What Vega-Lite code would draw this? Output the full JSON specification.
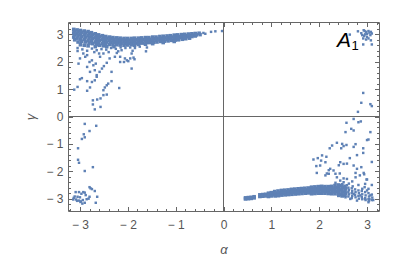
{
  "$schema": "https://vega.github.io/schema/vega-lite/v6.json",
  "width": 311,
  "height": 189,
  "autosize": "none",
  "padding": {"left": 68, "top": 22, "right": 21, "bottom": 63},
  "background": "white",
  "config": {
    "view": {"stroke": null},
    "axis": {"grid": false, "domainColor": "#666", "domainWidth": 1, "tickColor": "#666", "tickWidth": 1, "labelColor": "#555", "labelFont": "Liberation Sans", "labelFontSize": 12, "titleFont": "Liberation Sans", "titleColor": "#555", "titleFontWeight": "normal", "labelOverlap": false, "labelFlush": false}
  },
  "datasets": {
    "band": [
        {"a":-3.13,"g":3.18},{"a":-3.11,"g":3.12},{"a":-3.13,"g":3.05},{"a":-3.11,"g":2.98},{"a":-3.13,"g":2.9},{"a":-3.11,"g":2.8},
        {"a":-3.06,"g":3.16},{"a":-3.04,"g":3.1},{"a":-3.06,"g":3.02},{"a":-3.04,"g":2.95},{"a":-3.06,"g":2.86},{"a":-3.04,"g":2.72},
        {"a":-2.99,"g":3.14},{"a":-2.97,"g":3.08},{"a":-2.99,"g":3.0},{"a":-2.97,"g":2.92},{"a":-2.99,"g":2.83},{"a":-2.97,"g":2.75},{"a":-2.99,"g":2.62},
        {"a":-2.91,"g":3.12},{"a":-2.89,"g":3.05},{"a":-2.91,"g":2.98},{"a":-2.89,"g":2.9},{"a":-2.91,"g":2.82},{"a":-2.89,"g":2.72},{"a":-2.91,"g":2.6},
        {"a":-2.83,"g":3.1},{"a":-2.81,"g":3.02},{"a":-2.83,"g":2.95},{"a":-2.81,"g":2.87},{"a":-2.83,"g":2.78},{"a":-2.81,"g":2.68},{"a":-2.83,"g":2.58},
        {"a":-2.76,"g":3.06},{"a":-2.74,"g":2.99},{"a":-2.76,"g":2.92},{"a":-2.74,"g":2.85},{"a":-2.76,"g":2.76},{"a":-2.74,"g":2.66},
        {"a":-2.68,"g":3.02},{"a":-2.66,"g":2.95},{"a":-2.68,"g":2.88},{"a":-2.66,"g":2.8},{"a":-2.68,"g":2.72},{"a":-2.66,"g":2.62},{"a":-2.68,"g":2.55},
        {"a":-2.61,"g":2.98},{"a":-2.59,"g":2.92},{"a":-2.61,"g":2.85},{"a":-2.59,"g":2.78},{"a":-2.61,"g":2.7},{"a":-2.59,"g":2.6},
        {"a":-2.53,"g":2.95},{"a":-2.51,"g":2.88},{"a":-2.53,"g":2.82},{"a":-2.51,"g":2.75},{"a":-2.53,"g":2.66},{"a":-2.51,"g":2.58},
        {"a":-2.46,"g":2.92},{"a":-2.44,"g":2.86},{"a":-2.46,"g":2.8},{"a":-2.44,"g":2.72},{"a":-2.46,"g":2.64},{"a":-2.44,"g":2.55},
        {"a":-2.38,"g":2.9},{"a":-2.36,"g":2.84},{"a":-2.38,"g":2.78},{"a":-2.36,"g":2.71},{"a":-2.38,"g":2.63},
        {"a":-2.31,"g":2.88},{"a":-2.29,"g":2.82},{"a":-2.31,"g":2.76},{"a":-2.29,"g":2.7},{"a":-2.31,"g":2.62},{"a":-2.29,"g":2.55},
        {"a":-2.23,"g":2.87},{"a":-2.21,"g":2.81},{"a":-2.23,"g":2.75},{"a":-2.21,"g":2.69},{"a":-2.23,"g":2.62},
        {"a":-2.16,"g":2.86},{"a":-2.14,"g":2.8},{"a":-2.16,"g":2.74},{"a":-2.14,"g":2.68},{"a":-2.16,"g":2.61},
        {"a":-2.08,"g":2.85},{"a":-2.06,"g":2.79},{"a":-2.08,"g":2.73},{"a":-2.06,"g":2.67},{"a":-2.08,"g":2.6},
        {"a":-2.01,"g":2.85},{"a":-1.99,"g":2.79},{"a":-2.01,"g":2.73},{"a":-1.99,"g":2.67},{"a":-2.01,"g":2.61},
        {"a":-1.93,"g":2.85},{"a":-1.91,"g":2.79},{"a":-1.93,"g":2.73},{"a":-1.91,"g":2.67},{"a":-1.93,"g":2.62},
        {"a":-1.86,"g":2.86},{"a":-1.84,"g":2.8},{"a":-1.86,"g":2.74},{"a":-1.84,"g":2.68},{"a":-1.86,"g":2.6},
        {"a":-1.78,"g":2.86},{"a":-1.76,"g":2.8},{"a":-1.78,"g":2.74},{"a":-1.76,"g":2.68},{"a":-1.78,"g":2.63},
        {"a":-1.71,"g":2.87},{"a":-1.69,"g":2.81},{"a":-1.71,"g":2.75},{"a":-1.69,"g":2.68},
        {"a":-1.63,"g":2.88},{"a":-1.61,"g":2.82},{"a":-1.63,"g":2.76},{"a":-1.61,"g":2.7},{"a":-1.63,"g":2.64},
        {"a":-1.56,"g":2.88},{"a":-1.54,"g":2.82},{"a":-1.56,"g":2.76},{"a":-1.54,"g":2.7},
        {"a":-1.48,"g":2.9},{"a":-1.46,"g":2.84},{"a":-1.48,"g":2.78},{"a":-1.46,"g":2.71},{"a":-1.48,"g":2.66},
        {"a":-1.41,"g":2.9},{"a":-1.39,"g":2.84},{"a":-1.41,"g":2.78},{"a":-1.39,"g":2.72},
        {"a":-1.33,"g":2.92},{"a":-1.31,"g":2.86},{"a":-1.33,"g":2.8},{"a":-1.31,"g":2.74},
        {"a":-1.26,"g":2.93},{"a":-1.24,"g":2.87},{"a":-1.26,"g":2.81},{"a":-1.24,"g":2.75},{"a":-1.26,"g":2.7},
        {"a":-1.18,"g":2.94},{"a":-1.16,"g":2.88},{"a":-1.18,"g":2.82},{"a":-1.16,"g":2.76},
        {"a":-1.11,"g":2.95},{"a":-1.09,"g":2.9},{"a":-1.11,"g":2.84},{"a":-1.09,"g":2.78},
        {"a":-1.03,"g":2.97},{"a":-1.01,"g":2.91},{"a":-1.03,"g":2.85},{"a":-1.01,"g":2.79},{"a":-1.03,"g":2.74},
        {"a":-0.96,"g":2.98},{"a":-0.94,"g":2.92},{"a":-0.96,"g":2.86},{"a":-0.94,"g":2.8},
        {"a":-0.88,"g":2.99},{"a":-0.86,"g":2.93},{"a":-0.88,"g":2.88},{"a":-0.86,"g":2.82},
        {"a":-0.81,"g":3.0},{"a":-0.79,"g":2.95},{"a":-0.81,"g":2.89},{"a":-0.79,"g":2.84},
        {"a":-0.73,"g":3.01},{"a":-0.71,"g":2.96},{"a":-0.73,"g":2.91},{"a":-0.71,"g":2.86},
        {"a":-0.66,"g":3.02},{"a":-0.64,"g":2.97},{"a":-0.66,"g":2.92},
        {"a":-0.59,"g":3.03},{"a":-0.57,"g":2.98},{"a":-0.59,"g":2.94},
        {"a":-0.51,"g":3.04},{"a":-0.49,"g":2.99},
        {"a":0.46,"g":-2.97},{"a":0.46,"g":-3.01},{"a":0.52,"g":-2.96},{"a":0.52,"g":-3.0},{"a":0.58,"g":-2.95},{"a":0.58,"g":-2.99},{"a":0.64,"g":-2.93},{"a":0.64,"g":-2.97},
        {"a":0.76,"g":-2.86},{"a":0.76,"g":-2.92},{"a":0.82,"g":-2.85},{"a":0.82,"g":-2.91},{"a":0.88,"g":-2.84},{"a":0.88,"g":-2.9},
        {"a":0.94,"g":-2.8},{"a":0.95,"g":-2.86},{"a":0.94,"g":-2.92},{"a":1.0,"g":-2.78},{"a":1.01,"g":-2.84},{"a":1.0,"g":-2.9},
        {"a":1.07,"g":-2.74},{"a":1.08,"g":-2.8},{"a":1.07,"g":-2.86},{"a":1.08,"g":-2.9},
        {"a":1.14,"g":-2.72},{"a":1.15,"g":-2.78},{"a":1.14,"g":-2.84},{"a":1.15,"g":-2.89},
        {"a":1.21,"g":-2.7},{"a":1.22,"g":-2.76},{"a":1.21,"g":-2.82},{"a":1.22,"g":-2.87},
        {"a":1.28,"g":-2.69},{"a":1.29,"g":-2.75},{"a":1.28,"g":-2.81},{"a":1.29,"g":-2.86},
        {"a":1.35,"g":-2.68},{"a":1.36,"g":-2.74},{"a":1.35,"g":-2.8},{"a":1.36,"g":-2.85},
        {"a":1.42,"g":-2.66},{"a":1.43,"g":-2.72},{"a":1.42,"g":-2.78},{"a":1.43,"g":-2.84},
        {"a":1.49,"g":-2.65},{"a":1.5,"g":-2.71},{"a":1.49,"g":-2.77},{"a":1.5,"g":-2.83},
        {"a":1.56,"g":-2.64},{"a":1.57,"g":-2.7},{"a":1.56,"g":-2.76},{"a":1.57,"g":-2.82},
        {"a":1.63,"g":-2.63},{"a":1.64,"g":-2.69},{"a":1.63,"g":-2.75},{"a":1.64,"g":-2.81},
        {"a":1.7,"g":-2.62},{"a":1.71,"g":-2.68},{"a":1.7,"g":-2.74},{"a":1.71,"g":-2.8},
        {"a":1.77,"g":-2.61},{"a":1.78,"g":-2.67},{"a":1.77,"g":-2.73},{"a":1.78,"g":-2.79},
        {"a":1.84,"g":-2.58},{"a":1.85,"g":-2.64},{"a":1.84,"g":-2.7},{"a":1.85,"g":-2.76},{"a":1.84,"g":-2.82},
        {"a":1.91,"g":-2.57},{"a":1.92,"g":-2.63},{"a":1.91,"g":-2.69},{"a":1.92,"g":-2.75},{"a":1.91,"g":-2.81},
        {"a":1.98,"g":-2.56},{"a":1.99,"g":-2.62},{"a":1.98,"g":-2.68},{"a":1.99,"g":-2.74},{"a":1.98,"g":-2.8},
        {"a":2.05,"g":-2.55},{"a":2.06,"g":-2.61},{"a":2.05,"g":-2.67},{"a":2.06,"g":-2.73},{"a":2.05,"g":-2.8},
        {"a":2.12,"g":-2.56},{"a":2.13,"g":-2.62},{"a":2.12,"g":-2.68},{"a":2.13,"g":-2.74},{"a":2.12,"g":-2.8},
        {"a":2.19,"g":-2.56},{"a":2.2,"g":-2.62},{"a":2.19,"g":-2.68},{"a":2.2,"g":-2.74},{"a":2.19,"g":-2.81},
        {"a":2.26,"g":-2.55},{"a":2.27,"g":-2.62},{"a":2.26,"g":-2.68},{"a":2.27,"g":-2.75},{"a":2.26,"g":-2.82},
        {"a":2.33,"g":-2.52},{"a":2.34,"g":-2.6},{"a":2.33,"g":-2.67},{"a":2.34,"g":-2.74},{"a":2.33,"g":-2.82},
        {"a":2.4,"g":-2.5},{"a":2.41,"g":-2.58},{"a":2.4,"g":-2.66},{"a":2.41,"g":-2.74},{"a":2.4,"g":-2.82},{"a":2.41,"g":-2.88},
        {"a":2.47,"g":-2.52},{"a":2.48,"g":-2.6},{"a":2.47,"g":-2.68},{"a":2.48,"g":-2.76},{"a":2.47,"g":-2.84},{"a":2.48,"g":-2.9},
        {"a":2.54,"g":-2.55},{"a":2.55,"g":-2.64},{"a":2.54,"g":-2.72},{"a":2.55,"g":-2.8},{"a":2.54,"g":-2.88}
    ],
    "scatter": [
        {"a":-0.42,"g":3.05},{"a":-0.38,"g":3.02},{"a":-0.26,"g":3.09},{"a":-0.17,"g":3.11},{"a":-0.03,"g":3.12},
        {"a":-3.12,"g":0.98},{"a":-3.05,"g":1.08},{"a":-3.0,"g":1.36},{"a":-2.96,"g":1.4},{"a":-2.85,"g":1.29},{"a":-2.85,"g":0.94},{"a":-2.79,"g":1.06},{"a":-2.75,"g":1.26},{"a":-2.69,"g":1.32},{"a":-2.65,"g":1.45},{"a":-2.73,"g":0.59},{"a":-2.64,"g":0.62},{"a":-2.57,"g":0.66},{"a":-2.69,"g":0.26},{"a":-2.57,"g":0.35},{"a":-2.73,"g":0.44},{"a":-2.51,"g":0.96},{"a":-2.48,"g":1.06},{"a":-2.44,"g":1.14},{"a":-2.41,"g":1.2},{"a":-2.34,"g":1.29},{"a":-2.51,"g":0.78},{"a":-2.44,"g":0.8},{"a":-2.34,"g":1.63},{"a":-2.18,"g":1.04},{"a":-2.16,"g":2.18},{"a":-2.08,"g":1.99},{"a":-2.02,"g":2.05},{"a":-1.95,"g":2.12},{"a":-1.92,"g":2.3},{"a":-1.86,"g":2.09},{"a":-1.92,"g":1.75},{"a":-1.62,"g":2.38},{"a":-2.93,"g":2.3},{"a":-2.89,"g":2.18},{"a":-2.85,"g":2.24},{"a":-2.8,"g":1.99},{"a":-2.75,"g":2.05},{"a":-2.72,"g":1.87},{"a":-2.67,"g":1.93},{"a":-2.85,"g":1.81},{"a":-2.79,"g":1.63},{"a":-2.69,"g":1.69},{"a":-2.65,"g":1.51},{"a":-2.59,"g":1.63},{"a":-2.54,"g":1.75},{"a":-2.5,"g":1.84},{"a":-2.44,"g":1.96},{"a":-2.38,"g":2.12},{"a":-2.58,"g":2.18},{"a":-2.51,"g":2.3},{"a":-3.03,"g":1.93},{"a":-3.0,"g":2.12},{"a":-3.05,"g":2.39},{"a":-2.27,"g":2.18},{"a":-2.16,"g":1.99},{"a":-2.06,"g":2.12},{"a":-1.99,"g":2.02},{"a":-1.88,"g":2.15},{"a":-2.23,"g":2.32},{"a":-2.13,"g":2.42},
        {"a":-3.05,"g":2.5},{"a":-2.95,"g":2.45},{"a":-2.85,"g":2.4},{"a":-2.75,"g":2.48},{"a":-2.65,"g":2.42},{"a":-2.55,"g":2.46},{"a":-2.45,"g":2.44},{"a":-2.35,"g":2.5},{"a":-2.25,"g":2.47},{"a":-2.15,"g":2.52},{"a":-2.05,"g":2.5},{"a":-1.95,"g":2.52},{"a":-1.85,"g":2.5},{"a":-1.75,"g":2.55},{"a":-1.6,"g":2.52},{"a":-2.7,"g":2.35},{"a":-2.6,"g":2.3},{"a":-2.4,"g":2.35},{"a":-2.2,"g":2.38},{"a":-1.9,"g":2.4},
        {"a":-2.9,"g":-0.27},{"a":-2.66,"g":-0.34},{"a":-2.8,"g":-0.53},{"a":-2.92,"g":-0.65},{"a":-2.9,"g":-0.76},{"a":-2.96,"g":-0.82},{"a":-3.04,"g":-1.16},{"a":-3.04,"g":-1.58},{"a":-3.02,"g":-1.69},{"a":-2.73,"g":-1.85},{"a":-2.9,"g":-1.99},{"a":-2.8,"g":-2.58},{"a":-2.78,"g":-2.62},{"a":-2.75,"g":-2.65},{"a":-2.69,"g":-2.72},{"a":-3.09,"g":-2.76},{"a":-3.02,"g":-2.76},{"a":-2.93,"g":-2.76},{"a":-2.9,"g":-2.78},{"a":-2.97,"g":-2.82},{"a":-2.64,"g":-2.93},{"a":-3.11,"g":-2.92},{"a":-3.13,"g":-2.97},{"a":-3.08,"g":-3.03},{"a":-3.02,"g":-3.07},{"a":-2.98,"g":-3.1},{"a":-2.94,"g":-3.05},{"a":-2.9,"g":-3.15},{"a":-2.82,"g":-3.0},{"a":-2.8,"g":-2.93},{"a":-2.67,"g":-3.15},{"a":-3.05,"g":-2.93},{"a":-3.06,"g":-3.08},{"a":-2.99,"g":-3.12},{"a":-2.95,"g":-3.18},{"a":-3.0,"g":-2.95},{"a":-2.86,"g":-3.02},{"a":-3.14,"g":-3.03},{"a":-2.88,"g":-2.87},
        {"a":2.81,"g":3.11},{"a":2.93,"g":3.15},{"a":2.98,"g":3.09},{"a":3.03,"g":3.12},{"a":3.08,"g":3.09},{"a":2.9,"g":2.97},{"a":2.94,"g":2.94},{"a":3.0,"g":2.91},{"a":3.07,"g":2.97},{"a":3.1,"g":3.03},{"a":2.92,"g":2.85},{"a":2.98,"g":2.81},{"a":3.03,"g":2.85},{"a":3.08,"g":2.78},{"a":2.92,"g":2.63},{"a":3.1,"g":2.63},{"a":2.64,"g":2.99},{"a":2.95,"g":3.12},{"a":3.0,"g":3.02},{"a":2.88,"g":3.04},{"a":3.05,"g":3.06},{"a":2.96,"g":3.0},
        {"a":2.92,"g":0.86},{"a":2.88,"g":0.5},{"a":3.07,"g":0.45},{"a":3.1,"g":0.38},{"a":2.81,"g":0.17},
        {"a":2.72,"g":-0.09},{"a":2.82,"g":-0.21},{"a":2.87,"g":-0.18},{"a":2.57,"g":-0.23},{"a":2.67,"g":-0.45},{"a":2.72,"g":-0.51},{"a":2.55,"g":-0.57},{"a":3.07,"g":-0.57},{"a":3.03,"g":-0.84},{"a":2.37,"g":-0.96},{"a":2.48,"g":-1.0},{"a":2.22,"g":-1.16},{"a":2.27,"g":-1.06},{"a":2.46,"g":-1.16},{"a":2.51,"g":-1.08},{"a":2.57,"g":-1.04},{"a":2.92,"g":-1.16},{"a":1.88,"g":-1.57},{"a":1.97,"g":-1.52},{"a":2.06,"g":-1.42},{"a":2.04,"g":-1.61},{"a":2.13,"g":-1.67},{"a":1.94,"g":-1.81},{"a":2.02,"g":-1.79},{"a":2.23,"g":-1.91},{"a":2.3,"g":-1.97},{"a":2.2,"g":-2.09},{"a":2.13,"g":-2.15},{"a":2.34,"g":-2.09},{"a":2.37,"g":-2.22},{"a":2.44,"g":-1.67},{"a":2.51,"g":-1.73},{"a":2.64,"g":-1.52},{"a":2.72,"g":-1.79},{"a":2.79,"g":-1.91},{"a":2.88,"g":-1.85},{"a":2.93,"g":-2.06},{"a":2.85,"g":-2.15},{"a":2.76,"g":-2.22},{"a":3.0,"g":-2.3},{"a":2.96,"g":-2.46},{"a":2.58,"g":-2.28},{"a":2.69,"g":-2.37},{"a":2.44,"g":-2.34},{"a":2.51,"g":-2.4},{"a":2.9,"g":-2.64},{"a":3.0,"g":-2.7},{"a":3.07,"g":-2.88},{"a":2.86,"g":-2.88},{"a":2.96,"g":-3.01},{"a":3.03,"g":-3.13},{"a":2.79,"g":-3.07},{"a":2.65,"g":-3.01},{"a":2.72,"g":-2.82},{"a":3.03,"g":-2.64},{"a":3.1,"g":-2.5},{"a":3.05,"g":-3.01},{"a":1.95,"g":-2.06},{"a":2.15,"g":-1.47},{"a":2.16,"g":-2.08},{"a":2.2,"g":-1.96},{"a":2.41,"g":-1.78},{"a":2.43,"g":-2.08},{"a":2.51,"g":-2.26},{"a":2.58,"g":-1.72},{"a":2.72,"g":-1.11},{"a":2.76,"g":-1.01},{"a":2.79,"g":-1.41},{"a":2.92,"g":-1.33},{"a":3.0,"g":-0.86},{"a":3.1,"g":-1.66},{"a":2.94,"g":-2.11},{"a":2.99,"g":-2.3},{"a":2.76,"g":-2.06},{"a":2.58,"g":-2.51},{"a":2.34,"g":-2.42},{"a":2.62,"g":-2.45},{"a":2.82,"g":-2.5},{"a":2.7,"g":-2.55},{"a":2.95,"g":-2.58},{"a":2.48,"g":-2.47},
        {"a":2.55,"g":-2.95},
        {"a":2.61,"g":-2.6},{"a":2.62,"g":-2.68},{"a":2.61,"g":-2.76},{"a":2.62,"g":-2.84},{"a":2.61,"g":-2.92},
        {"a":2.68,"g":-2.62},{"a":2.69,"g":-2.72},{"a":2.68,"g":-2.8},{"a":2.69,"g":-2.9},{"a":2.68,"g":-2.98},
        {"a":2.75,"g":-2.66},{"a":2.76,"g":-2.76},{"a":2.75,"g":-2.86},{"a":2.76,"g":-2.95},
        {"a":2.82,"g":-2.7},{"a":2.83,"g":-2.8},{"a":2.82,"g":-2.9},{"a":2.83,"g":-3.0},
        {"a":2.89,"g":-2.72},{"a":2.9,"g":-2.84},{"a":2.89,"g":-2.94},{"a":2.9,"g":-3.02},
        {"a":2.96,"g":-2.76},{"a":2.97,"g":-2.88},{"a":2.96,"g":-2.98},{"a":2.97,"g":-3.05},
        {"a":3.03,"g":-2.8},{"a":3.04,"g":-2.92},{"a":3.03,"g":-3.02},{"a":3.04,"g":-3.08},
        {"a":3.1,"g":-2.85},{"a":3.11,"g":-2.96},{"a":3.1,"g":-3.05},{"a":3.13,"g":-3.05}
    ]
  },
  "resolve": {"axis": {"x": "independent", "y": "independent"}},
  "layer": [
    {
      "data": {"name": "scatter"},
      "mark": {"type": "square", "size": 6, "filled": true, "opacity": 1, "color": "#5E81B5"},
      "encoding": {
        "x": {"field": "a", "type": "quantitative", "scale": {"domain": [-3.25, 3.25], "nice": false, "zero": false},
          "axis": {"orient": "bottom", "values": [-3, -2, -1, 0, 1, 2, 3], "ticks": false, "domain": false, "labelPadding": 8,
            "labelExpr": "datum.value < 0 ? '− ' + (-datum.value) : '' + datum.value",
            "title": "α", "titleFontStyle": "italic", "titleFontSize": 13, "titlePadding": 13}},
        "y": {"field": "g", "type": "quantitative", "scale": {"domain": [-3.45, 3.45], "nice": false, "zero": false},
          "axis": {"orient": "left", "values": [-3, -2, -1, 0, 1, 2, 3], "ticks": false, "domain": false, "labelPadding": 5,
            "labelExpr": "datum.value < 0 ? '− ' + (-datum.value) : '' + datum.value",
            "title": "γ", "titleFontStyle": "italic", "titleFontSize": 13, "titlePadding": 8}}
      }
    },
    {
      "data": {"name": "band"},
      "mark": {"type": "square", "size": 13, "filled": true, "opacity": 1, "color": "#5E81B5"},
      "encoding": {
        "x": {"field": "a", "type": "quantitative", "axis": null},
        "y": {"field": "g", "type": "quantitative", "axis": null}
      }
    },
    {
      "data": {"values": [{"a": 0, "g": 0}]},
      "mark": {"type": "point", "opacity": 0},
      "encoding": {
        "x": {"field": "a", "type": "quantitative", "axis": {"orient": "bottom", "values": [-3, -2, -1, 0, 1, 2, 3], "labels": false, "tickSize": -4.5, "domain": true, "title": null}},
        "y": {"field": "g", "type": "quantitative", "axis": {"orient": "left", "values": [-3, -2, -1, 0, 1, 2, 3], "labels": false, "tickSize": -4.5, "domain": true, "title": null}}
      }
    },
    {
      "data": {"values": [{"a": 0, "g": 0}]},
      "mark": {"type": "point", "opacity": 0},
      "encoding": {
        "x": {"field": "a", "type": "quantitative", "axis": {"orient": "bottom", "values": [-3.2, -2.8, -2.6, -2.4, -2.2, -1.8, -1.6, -1.4, -1.2, -0.8, -0.6, -0.4, -0.2, 0.2, 0.4, 0.6, 0.8, 1.2, 1.4, 1.6, 1.8, 2.2, 2.4, 2.6, 2.8, 3.2], "labels": false, "tickSize": -2.5, "domain": false, "title": null}},
        "y": {"field": "g", "type": "quantitative", "axis": {"orient": "left", "values": [-3.4, -3.2, -2.8, -2.6, -2.4, -2.2, -1.8, -1.6, -1.4, -1.2, -0.8, -0.6, -0.4, -0.2, 0.2, 0.4, 0.6, 0.8, 1.2, 1.4, 1.6, 1.8, 2.2, 2.4, 2.6, 2.8, 3.2, 3.4], "labels": false, "tickSize": -2.5, "domain": false, "title": null}}
      }
    },
    {
      "data": {"values": [{"a": 0, "g": 0}]},
      "mark": {"type": "point", "opacity": 0},
      "encoding": {
        "x": {"field": "a", "type": "quantitative", "axis": {"orient": "top", "values": [-3, -2, -1, 0, 1, 2, 3], "labels": false, "tickSize": -4.5, "domain": true, "title": null}},
        "y": {"field": "g", "type": "quantitative", "axis": {"orient": "right", "values": [-3, -2, -1, 0, 1, 2, 3], "labels": false, "tickSize": -4.5, "domain": true, "title": null}}
      }
    },
    {
      "data": {"values": [{"a": 0, "g": 0}]},
      "mark": {"type": "point", "opacity": 0},
      "encoding": {
        "x": {"field": "a", "type": "quantitative", "axis": {"orient": "top", "values": [-3.2, -2.8, -2.6, -2.4, -2.2, -1.8, -1.6, -1.4, -1.2, -0.8, -0.6, -0.4, -0.2, 0.2, 0.4, 0.6, 0.8, 1.2, 1.4, 1.6, 1.8, 2.2, 2.4, 2.6, 2.8, 3.2], "labels": false, "tickSize": -2.5, "domain": false, "title": null}},
        "y": {"field": "g", "type": "quantitative", "axis": {"orient": "right", "values": [-3.4, -3.2, -2.8, -2.6, -2.4, -2.2, -1.8, -1.6, -1.4, -1.2, -0.8, -0.6, -0.4, -0.2, 0.2, 0.4, 0.6, 0.8, 1.2, 1.4, 1.6, 1.8, 2.2, 2.4, 2.6, 2.8, 3.2, 3.4], "labels": false, "tickSize": -2.5, "domain": false, "title": null}}
      }
    },
    {
      "data": {"values": [{"a": 0}]},
      "mark": {"type": "rule", "color": "#666", "strokeWidth": 1},
      "encoding": {"x": {"field": "a", "type": "quantitative", "axis": null}}
    },
    {
      "data": {"values": [{"g": 0}]},
      "mark": {"type": "rule", "color": "#666", "strokeWidth": 1},
      "encoding": {"y": {"field": "g", "type": "quantitative", "axis": null}}
    },
    {
      "data": {"values": [{"t": "A"}]},
      "mark": {"type": "text", "font": "Liberation Sans", "fontStyle": "italic", "fontSize": 21, "align": "center", "baseline": "alphabetic", "color": "black"},
      "encoding": {
        "x": {"datum": 2.52, "type": "quantitative", "axis": null},
        "y": {"datum": 2.54, "type": "quantitative", "axis": null},
        "text": {"field": "t"}
      }
    },
    {
      "data": {"values": [{"t": "1"}]},
      "mark": {"type": "text", "font": "Liberation Sans", "fontSize": 13, "align": "center", "baseline": "alphabetic", "color": "black"},
      "encoding": {
        "x": {"datum": 2.75, "type": "quantitative", "axis": null},
        "y": {"datum": 2.445, "type": "quantitative", "axis": null},
        "text": {"field": "t"}
      }
    }
  ]
}
